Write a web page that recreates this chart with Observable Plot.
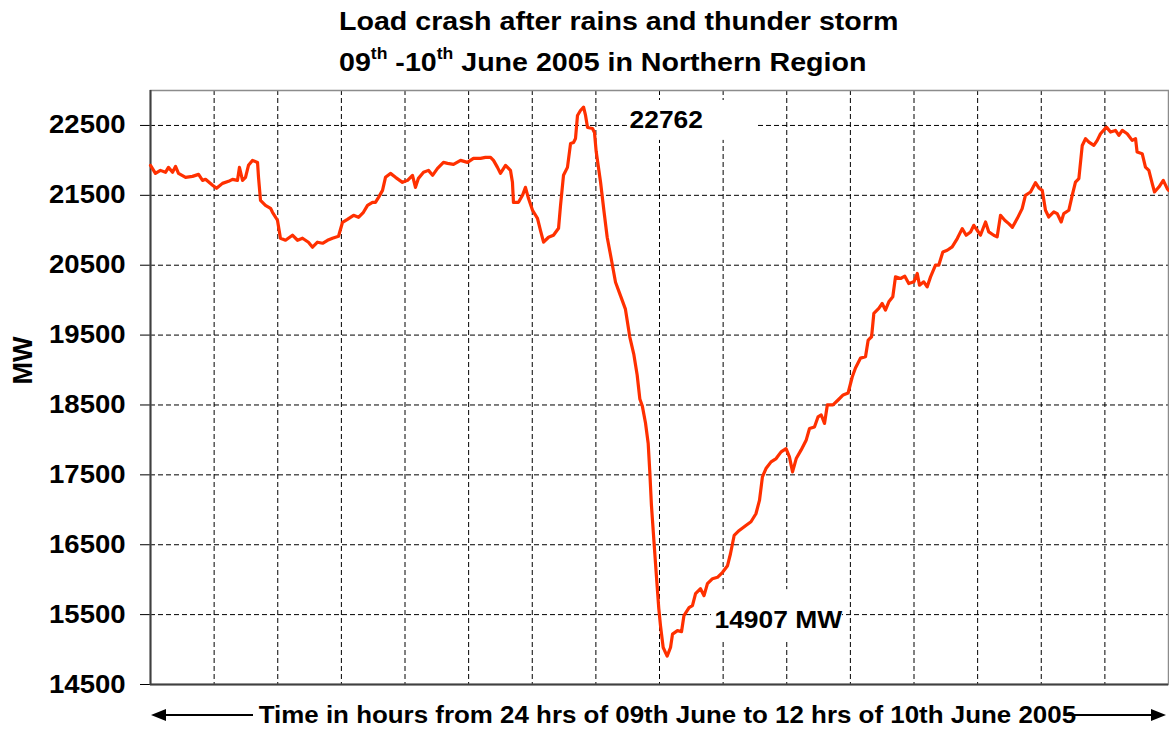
<!DOCTYPE html>
<html>
<head>
<meta charset="utf-8">
<script src="https://cdn.jsdelivr.net/npm/d3@7"></script>
<script src="https://cdn.jsdelivr.net/npm/@observablehq/plot@0.6"></script>
<style>
  html, body { margin: 0; padding: 0; background: #fff; overflow: hidden; }
  #chart svg { display: block; overflow: visible; }
</style>
</head>
<body>
<div id="chart"></div>
<script>
// ---- data (time in minutes from 24 hrs of 09 June; load in MW) ----
const minutes = [
  0, 3.5, 7, 10.6, 12.7, 15.6, 17.7, 19.8, 24.8, 29.7, 34, 36.8, 38.9, 43.9, 46.7, 50.9, 55.2, 58, 61.5, 62.9,
  65.1, 67.2, 69.3, 72.1, 75.7, 76.4, 77.8, 81.3, 84.9, 86.3, 89.8, 91.9, 95.5, 100.4, 104, 107.5, 111.7, 114.6, 118.1, 121.7,
  125.2, 128.7, 133, 135.8, 139.3, 143.6, 147.1, 150.6, 153.5, 157, 159.1, 161.3, 164.1, 166.2, 169.7, 173.3, 178.2, 181.8, 185.3, 187.4,
  189.5, 193.1, 196.6, 199.5, 203, 207.2, 210.1, 214.3, 219.3, 224.2, 228.4, 233.4, 236.9, 240.5, 242.6, 245.4, 247.5, 251.1, 254.6, 256,
  256.7, 260.3, 263.1, 265.2, 267.3, 270.2, 273.7, 275.8, 278, 281.5, 285, 288.6, 290, 292.1, 294.9, 297.1, 299.2, 300.6, 302, 304.1,
  306.3, 307.7, 309.1, 312.6, 314, 315.2, 318.3, 320.6, 323, 325.8, 328.9, 332.4, 335.9, 339, 341.8, 344.2, 346.1, 347.8, 350.1, 352,
  353.1, 354.3, 356, 357.9, 359.5, 360.7, 362.6, 365.4, 367.8, 369.2, 372.7, 375.6, 377.3, 380.9, 383.3, 385.5, 389, 391.5, 393.9, 397.5,
  401, 404.6, 408.1, 410.2, 412.8, 416.4, 421.1, 424.7, 428.2, 430.7, 432.8, 435.3, 438.9, 442.5, 446, 449.5, 451.9, 454.1, 456.7, 460.2,
  463.8, 466.1, 469.6, 472.1, 474.4, 476.7, 478.7, 482.7, 486.3, 489.9, 493.4, 496.3, 498.6, 502.2, 505.7, 507.6, 510, 511.6, 515.1, 517.5,
  519.8, 522.2, 525, 526.9, 530.5, 533.5, 536.3, 539.9, 542.3, 543.9, 546.9, 549.3, 551.7, 555.2, 557.5, 560.4, 563.5, 567, 570.6, 574.1,
  576.9, 580, 582.3, 584.7, 587, 590.6, 592.9, 596.4, 598.8, 601.2, 604.2, 607, 609.6, 613, 616.5, 618.8, 622.4, 625.9, 628.3, 630.7,
  633, 635.3, 638.9, 641.3, 644.1, 645.9, 649.5, 651.9, 654.2, 656.6, 659, 661.3, 663.7, 667.2, 669.6, 671.9, 676.1, 679, 682.5, 684.9,
  687.3, 690.8, 694.3, 696.7, 697.8, 701.4, 703.7, 706.1, 708.5, 710.1, 713.2, 716.3, 719.1, 720
];
const mw = [
  21929, 21814, 21857, 21829, 21900, 21829, 21914, 21814, 21757, 21771, 21800, 21714, 21729, 21643, 21600, 21671, 21700, 21729, 21714, 21900,
  21714, 21757, 21929, 22000, 21971, 21757, 21429, 21357, 21314, 21257, 21143, 20886, 20857, 20929, 20857, 20886, 20829, 20757, 20829, 20814,
  20857, 20886, 20914, 21114, 21157, 21214, 21186, 21257, 21357, 21400, 21400, 21471, 21571, 21757, 21814, 21757, 21686, 21714, 21786, 21614,
  21743, 21829, 21857, 21786, 21886, 21971, 21957, 21943, 22000, 21971, 22029, 22029, 22043, 22043, 22000, 21900, 21814, 21929, 21857, 21686,
  21400, 21400, 21500, 21614, 21457, 21286, 21171, 21000, 20829, 20900, 20929, 21029, 21357, 21786, 21900, 22243, 22257, 22314, 22643, 22714,
  22762, 22643, 22471, 22457, 22400, 22130, 21690, 21293, 20900, 20600, 20257, 20064, 19871, 19471, 19229, 18929, 18586, 18490, 18243, 17949,
  17557, 17064, 16571, 16029, 15586, 15343, 15029, 14907, 15029, 15221, 15271, 15257, 15486, 15600, 15629, 15800, 15871, 15771, 15943, 16014,
  16034, 16106, 16200, 16371, 16633, 16704, 16776, 16829, 16943, 17134, 17471, 17590, 17686, 17733, 17829, 17876, 17757, 17543, 17733, 17857,
  18000, 18163, 18186, 18329, 18357, 18236, 18500, 18500, 18571, 18643, 18671, 18900, 19029, 19171, 19190, 19429, 19476, 19810, 19881, 19952,
  19857, 19976, 20048, 20333, 20310, 20343, 20238, 20262, 20381, 20214, 20262, 20190, 20333, 20500, 20500, 20690, 20714, 20762, 20881, 21024,
  20929, 20976, 21071, 21000, 20929, 21119, 20976, 20929, 20905, 21214, 21143, 21095, 21043, 21167, 21310, 21500, 21548, 21681, 21605, 21571,
  21286, 21190, 21262, 21238, 21119, 21238, 21286, 21500, 21690, 21738, 22214, 22310, 22262, 22214, 22286, 22381, 22476, 22405, 22429, 22357,
  22429, 22381, 22286, 22310, 22119, 22095, 21905, 21857, 21667, 21548, 21619, 21714, 21595, 21571
];
const yTicks = [14500, 15500, 16500, 17500, 18500, 19500, 20500, 21500, 22500];
const xTicks = [0, 45, 90, 135, 180, 225, 270, 315, 360, 405, 450, 495, 540, 585, 630, 675, 720];

// annotations (data coordinates)
const noteText = ["22762", "14907 MW"];
const noteX = [338.8, 398.9];
const noteY = [22571, 15414];
const boxX1 = [337.4, 396.8];
const boxX2 = [429.3, 489.4];
const boxY1 = [22286, 15114];
const boxY2 = [22857, 15857];

const titleLine1 = "Load crash after rains and thunder storm";
const xLabel = "Time in hours from 24 hrs of 09th June to 12 hrs of 10th June 2005";
const yLabel = "MW";

const FONT = "'Liberation Sans', Arial, Helvetica, sans-serif";
const SX = 1.1;
const chart = document.getElementById("chart");

// ---- title (above the plot) ----
const header = d3.create("svg").attr("width", 1169).attr("height", 89)
  .attr("font-family", FONT).attr("font-weight", "bold").attr("fill", "#000");
header.append("text").attr("transform", `translate(339,30) scale(${SX},1)`)
  .attr("font-size", 26).text(titleLine1);
const t2 = header.append("text").attr("transform", `translate(339,70.7) scale(${SX},1)`)
  .attr("font-size", 26);
t2.append("tspan").text("09");
t2.append("tspan").attr("font-size", 16).attr("dy", -12).text("th");
t2.append("tspan").attr("dy", 12).text(" -10");
t2.append("tspan").attr("font-size", 16).attr("dy", -12).text("th");
t2.append("tspan").attr("dy", 12).text(" June 2005 in Northern Region");
chart.appendChild(header.node());

// ---- plot ----
const plot = Plot.plot({
  width: 1169,
  height: 609,
  marginTop: 1,
  marginBottom: 14,
  marginLeft: 150,
  marginRight: 1,
  style: {fontFamily: FONT, fontSize: "25px", fontWeight: "bold", color: "#000", background: "#fff", overflow: "visible"},
  x: {domain: [0, 720], axis: null},
  y: {domain: [14500, 23000], ticks: yTicks, tickFormat: "d", tickSize: 10, tickPadding: 15, label: null},
  marks: [
    Plot.ruleX(xTicks.slice(1, -1), {stroke: "#000", strokeWidth: 1, strokeDasharray: "5,3"}),
    Plot.ruleY(yTicks.slice(1), {stroke: "#000", strokeWidth: 1, strokeDasharray: "5,3"}),
    Plot.rect(noteText, {x1: (d, i) => boxX1[i], x2: (d, i) => boxX2[i], y1: (d, i) => boxY1[i], y2: (d, i) => boxY2[i], fill: "#fff"}),
    Plot.frame({stroke: "#8c8c8c", strokeWidth: 1.5}),
    Plot.ruleX([0], {stroke: "#404040", strokeWidth: 2}),
    Plot.ruleY([14500], {stroke: "#404040", strokeWidth: 2}),
    Plot.line(minutes, {x: minutes, y: mw, stroke: "#ff3000", strokeWidth: 3.2, strokeLinejoin: "round"}),
    Plot.text(noteText, {x: noteX, y: noteY, text: d => d, textAnchor: "start", fontSize: 24, fontWeight: "bold", fill: "#000"}),
    Plot.text([yLabel], {frameAnchor: "left", dx: -127, dy: -3, rotate: -90, text: d => d, fontSize: 27, fontWeight: "bold", fill: "#000"})
  ]
});
// horizontally widen the non-rotated texts, as in the reference bitmap
plot.querySelectorAll("text").forEach(t => {
  const tr = t.getAttribute("transform") || "";
  if (tr.includes("rotate")) return;
  const x = +(t.getAttribute("x") || 0);
  t.setAttribute("transform", `${tr} translate(${x},0) scale(${SX},1) translate(${-x},0)`);
});
chart.appendChild(plot);

// ---- x label with arrows (below the plot) ----
const footer = d3.create("svg").attr("width", 1169).attr("height", 31)
  .attr("font-family", FONT).attr("font-weight", "bold");
footer.append("text").attr("transform", `translate(258.7,24.5) scale(1.08,1)`)
  .attr("font-size", 24).attr("fill", "#000").text(xLabel);
footer.append("line").attr("x1", 160).attr("x2", 253).attr("y1", 17).attr("y2", 17).attr("stroke", "#000").attr("stroke-width", 2);
footer.append("path").attr("d", "M151,17L166,11L166,23Z").attr("fill", "#000");
footer.append("line").attr("x1", 1064).attr("x2", 1156).attr("y1", 17).attr("y2", 17).attr("stroke", "#000").attr("stroke-width", 2);
footer.append("path").attr("d", "M1166,17L1151,11L1151,23Z").attr("fill", "#000");
chart.appendChild(footer.node());
</script>
</body>
</html>
